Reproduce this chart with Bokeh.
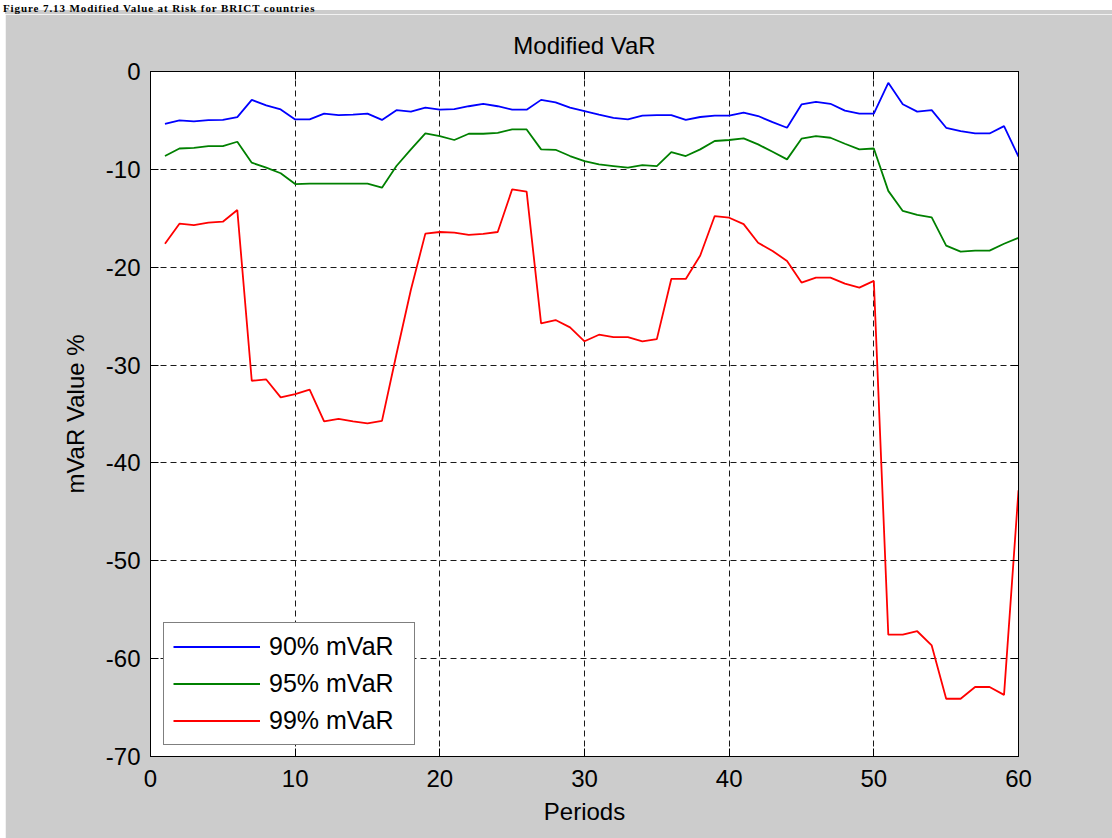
from bokeh.plotting import figure
from bokeh.models import Range1d, LinearAxis, FixedTicker, Legend, LegendItem, Div, CustomJSTickFormatter
from bokeh.layouts import column
from bokeh.embed import file_html
from bokeh.resources import INLINE

periods = list(range(1, 61))
mvar90 = [-5.35, -5.0, -5.1, -4.97, -4.95, -4.66, -2.9, -3.47, -3.88, -4.9,
          -4.9, -4.3, -4.45, -4.4, -4.3, -4.95, -3.95, -4.1, -3.7, -3.9,
          -3.85, -3.55, -3.3, -3.55, -3.9, -3.9, -2.9, -3.15, -3.7, -4.05,
          -4.4, -4.73, -4.9, -4.5, -4.45, -4.45, -4.95, -4.65, -4.5, -4.5,
          -4.2, -4.55, -5.17, -5.75, -3.37, -3.1, -3.3, -4.0, -4.3, -4.3,
          -1.16, -3.35, -4.1, -3.95, -5.75, -6.1, -6.33, -6.33, -5.58, -8.7]
mvar95 = [-8.64, -7.87, -7.8, -7.63, -7.63, -7.18, -9.32, -9.83, -10.4, -11.5,
          -11.45, -11.45, -11.45, -11.45, -11.45, -11.87, -9.66, -7.96, -6.33, -6.6,
          -7.0, -6.36, -6.36, -6.27, -5.92, -5.92, -7.96, -8.0, -8.64, -9.15,
          -9.5, -9.66, -9.83, -9.56, -9.66, -8.23, -8.64, -7.96, -7.1, -7.0,
          -6.84, -7.45, -8.2, -8.98, -6.87, -6.6, -6.77, -7.38, -7.96, -7.87,
          -12.2, -14.25, -14.66, -14.9, -17.8, -18.4, -18.3, -18.3, -17.6, -17.0]
mvar99 = [-17.6, -15.55, -15.7, -15.45, -15.35, -14.15, -31.6, -31.47, -33.3, -32.96,
          -32.5, -35.75, -35.5, -35.75, -35.95, -35.7, -28.9, -22.3, -16.57, -16.4,
          -16.47, -16.7, -16.6, -16.4, -12.04, -12.28, -25.75, -25.4, -26.15, -27.57,
          -26.9, -27.15, -27.15, -27.57, -27.35, -21.2, -21.2, -18.8, -14.77, -14.94,
          -15.6, -17.5, -18.34, -19.36, -21.57, -21.06, -21.06, -21.67, -22.08, -21.4,
          -57.55, -57.55, -57.2, -58.65, -64.1, -64.1, -62.9, -62.9, -63.7, -42.8]
x_ticks = [0, 10, 20, 30, 40, 50, 60]
y_ticks = [-70, -60, -50, -40, -30, -20, -10, 0]
series_labels = ["90% mVaR", "95% mVaR", "99% mVaR"]
series_colors = ["#0000FF", "#008000", "#FF0000"]

FONT = "Liberation Sans"

p = figure(width=1107, height=824, x_range=Range1d(0, 60), y_range=Range1d(-70, 0),
           output_backend="svg", toolbar_location=None,
           min_border_left=145, min_border_right=94, min_border_top=57, min_border_bottom=82,
           title="Modified VaR")
p.margin = (0, 0, 0, 5)
p.background_fill_color = "white"
p.border_fill_color = "#CCCCCC"
p.outline_line_color = "black"
p.outline_line_width = 1

p.title.align = "center"
p.title.text_font = FONT
p.title.text_font_size = "24px"
p.title.text_font_style = "normal"
p.title.text_color = "black"
p.title.standoff = 26

plain = CustomJSTickFormatter(code="return tick.toFixed(0)")
for ax in (p.xaxis[0], p.yaxis[0]):
    ax.formatter = plain
    ax.major_tick_in = 8
    ax.major_tick_out = 0
    ax.minor_tick_line_color = None
    ax.axis_line_color = "black"
    ax.major_tick_line_color = "black"
    ax.major_label_text_font = FONT
    ax.major_label_text_font_size = "24px"
    ax.major_label_text_color = "black"
    ax.axis_label_text_font = FONT
    ax.axis_label_text_font_size = "24px"
    ax.axis_label_text_font_style = "normal"
    ax.axis_label_text_color = "black"

p.xaxis[0].ticker = FixedTicker(ticks=x_ticks)
p.yaxis[0].ticker = FixedTicker(ticks=y_ticks)
p.xaxis[0].axis_label = "Periods"
p.yaxis[0].axis_label = "mVaR Value %"
p.xaxis[0].major_label_standoff = 13
p.xaxis[0].axis_label_standoff = 8
p.yaxis[0].major_label_standoff = 10
p.yaxis[0].axis_label_standoff = 14

blank = CustomJSTickFormatter(code="return ''")
top = LinearAxis(ticker=FixedTicker(ticks=x_ticks), formatter=blank)
right = LinearAxis(ticker=FixedTicker(ticks=y_ticks), formatter=blank)
for ax in (top, right):
    ax.major_tick_in = 8
    ax.major_tick_out = 0
    ax.minor_tick_line_color = None
    ax.axis_line_color = "black"
    ax.major_tick_line_color = "black"
    ax.major_label_standoff = 0
    ax.major_label_text_font_size = "1px"
p.add_layout(top, "above")
p.add_layout(right, "right")

for g in (p.xgrid[0], p.ygrid[0]):
    g.grid_line_color = "#1a1a1a"
    g.grid_line_dash = "6 4"
    g.grid_line_width = 1
p.xgrid[0].ticker = FixedTicker(ticks=x_ticks)
p.ygrid[0].ticker = FixedTicker(ticks=y_ticks)

renderers = []
for ys, c in zip([mvar90, mvar95, mvar99], series_colors):
    r = p.line(periods, ys, line_color=c, line_width=1.8)
    renderers.append(r)

legend = Legend(items=[LegendItem(label=l, renderers=[r]) for l, r in zip(series_labels, renderers)],
                location=(13, 11))
legend.margin = 0
legend.padding = 9
legend.spacing = 8
legend.glyph_width = 87
legend.glyph_height = 29
legend.label_height = 29
legend.label_width = 136
legend.label_standoff = 9
legend.label_text_font = FONT
legend.label_text_font_size = "25px"
legend.label_text_color = "black"
legend.border_line_color = "black"
legend.border_line_width = 1
legend.background_fill_color = "white"
legend.background_fill_alpha = 1
p.add_layout(legend)

caption = Div(width=1112, height=14, margin=0,
              styles={"overflow": "hidden", "background": "white", "position": "relative"},
              text='<div style="position:absolute; top:10px; left:5px; right:0; height:4px; '
                   'background:#CCCCCC;"></div>'
                   '<div style="position:relative; margin:0; padding-left:3px; '
                   'font-family:\'Liberation Serif\'; font-weight:bold; font-size:11px; '
                   'line-height:11px; letter-spacing:0.9px; color:black; white-space:nowrap;">'
                   'Figure 7.13 Modified Value at Risk for BRICT countries</div>')

layout = column(caption, p, spacing=0)
open("out.html", "w").write(file_html(layout, INLINE))
